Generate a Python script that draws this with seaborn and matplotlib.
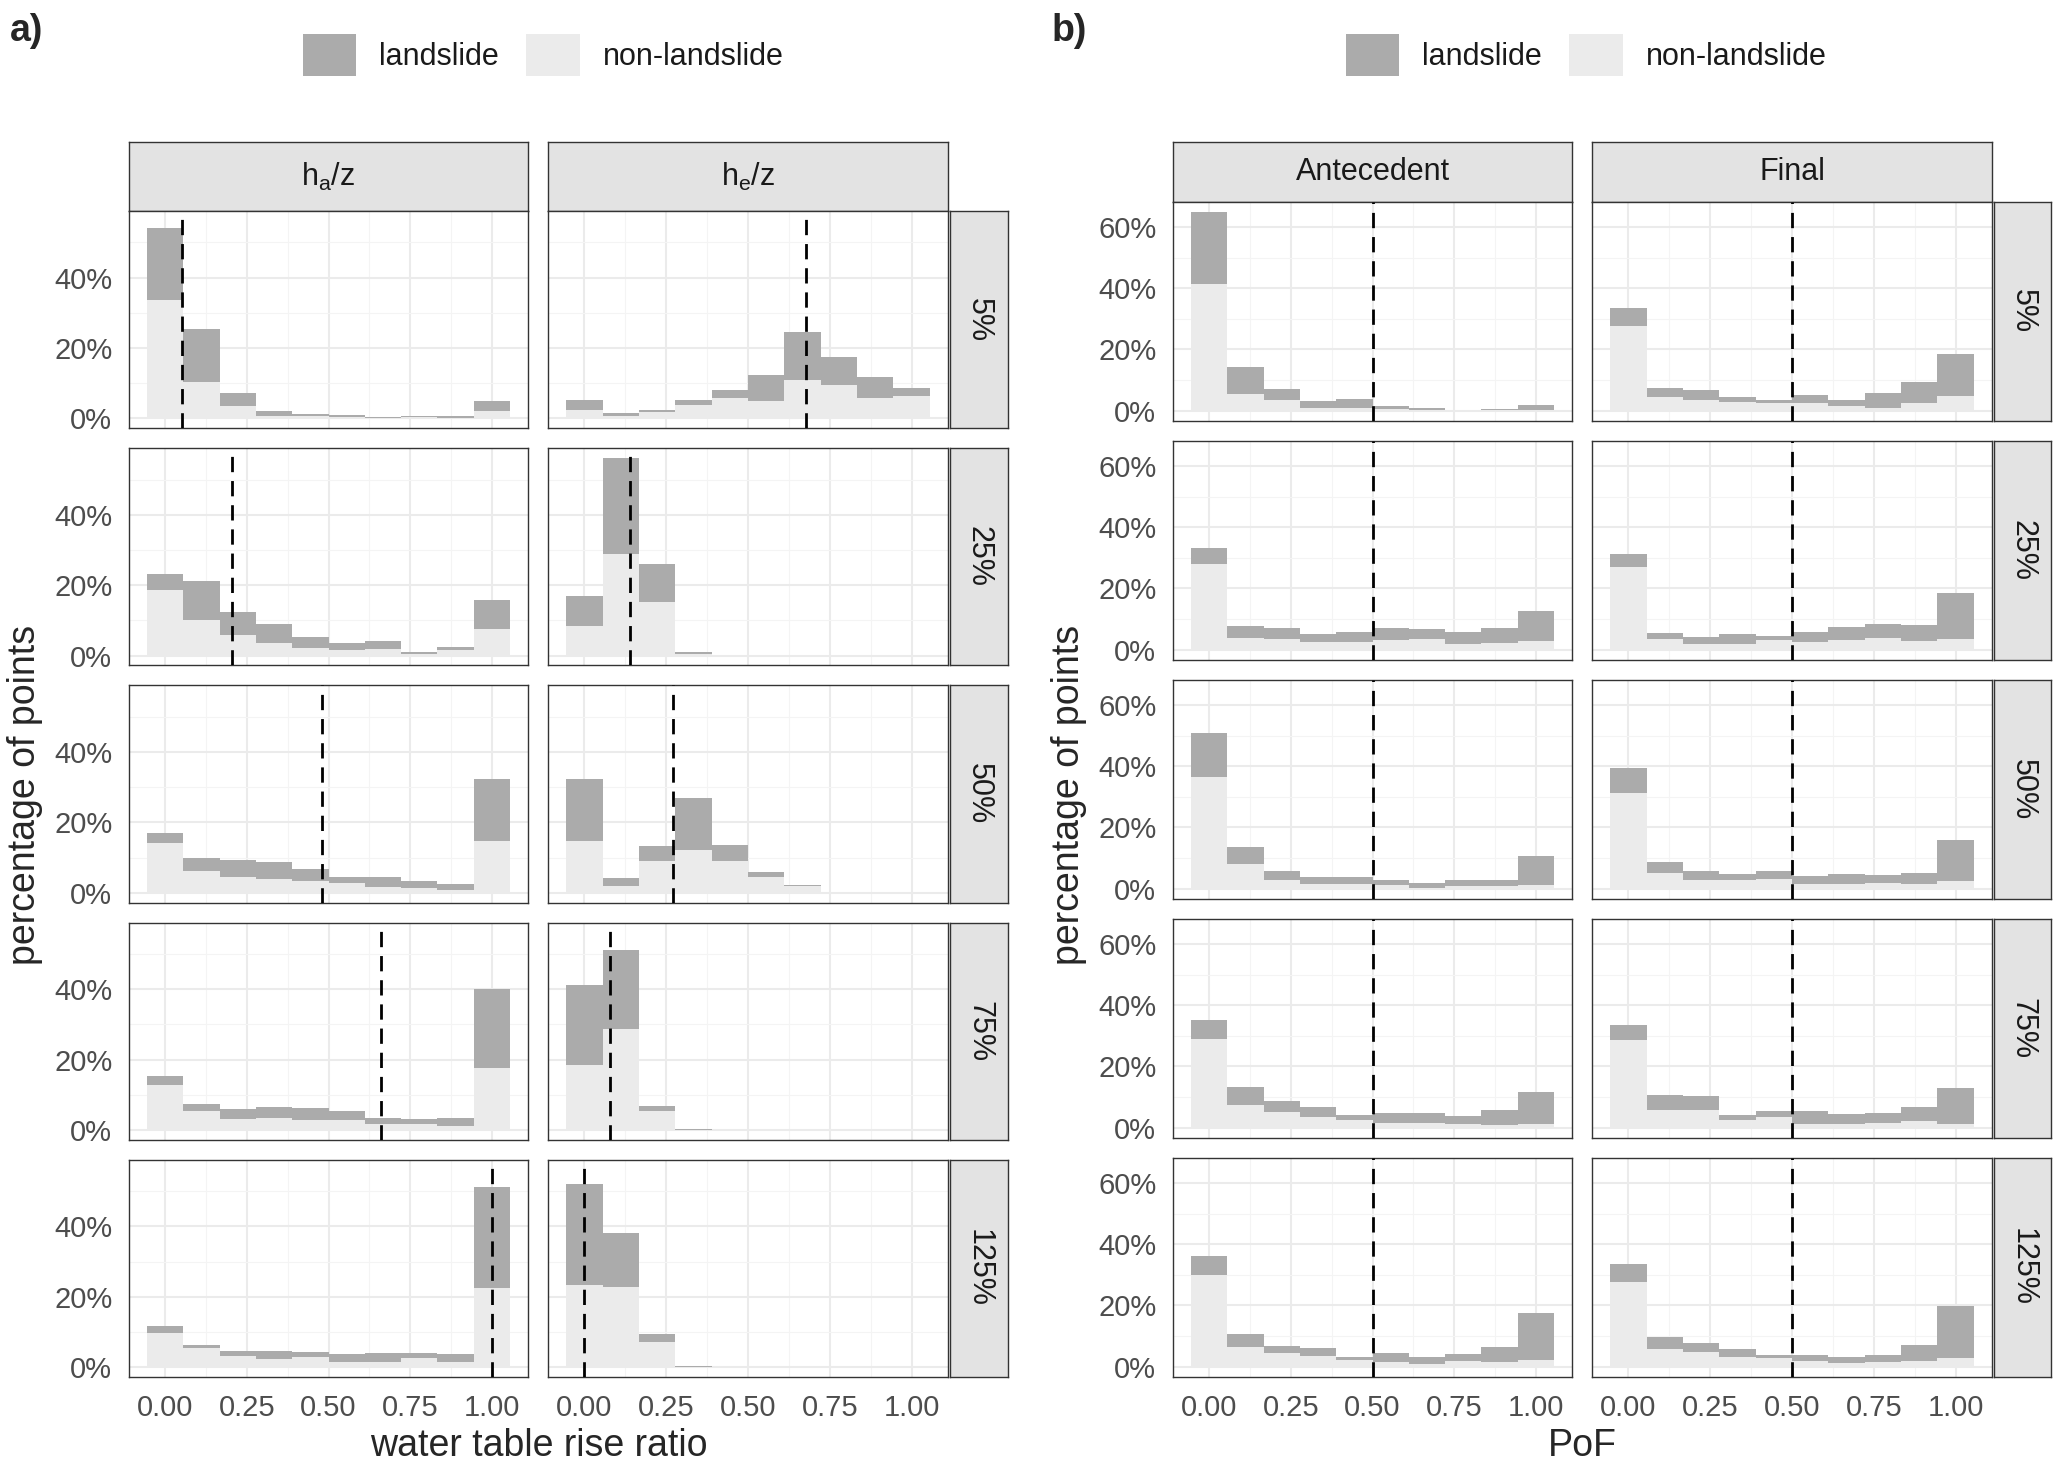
import numpy as np
import pandas as pd
import seaborn as sns
import matplotlib.pyplot as plt
from matplotlib.patches import Patch
from matplotlib.ticker import PercentFormatter

# ---- data (percentage of points per bin) ----
levels = ["5%", "25%", "50%", "75%", "125%"]
bin_centers = [0.0, 0.111, 0.222, 0.333, 0.444, 0.556, 0.667, 0.778, 0.889, 1.0]

# a) water table rise ratio, h_a/z
ha_nonls = {
    "5%":   [33.5, 10.2, 3.4, 0.8, 0.6, 0.5, 0.2, 0.3, 0.2, 2.2],
    "25%":  [18.6, 10.1, 5.7, 3.7, 2.2, 1.6, 1.9, 0.3, 1.5, 7.6],
    "50%":  [14.0, 6.3, 4.4, 3.9, 3.3, 2.7, 1.7, 1.4, 0.9, 14.6],
    "75%":  [12.8, 5.5, 3.1, 3.3, 2.8, 2.8, 1.6, 1.7, 1.2, 17.5],
    "125%": [9.7, 5.5, 3.3, 2.2, 2.8, 1.4, 1.4, 2.5, 1.4, 22.5],
}
ha_ls = {
    "5%":   [20.5, 15.3, 3.7, 1.2, 0.7, 0.5, 0.2, 0.3, 0.4, 2.6],
    "25%":  [4.7, 11.0, 6.6, 5.4, 3.0, 2.1, 2.2, 0.7, 0.9, 8.2],
    "50%":  [2.9, 3.7, 4.9, 4.7, 3.4, 1.9, 2.9, 1.9, 1.6, 17.8],
    "75%":  [2.4, 1.9, 2.9, 3.2, 3.3, 2.7, 1.7, 1.5, 2.3, 22.5],
    "125%": [2.1, 0.7, 1.3, 2.5, 1.6, 2.2, 2.7, 1.6, 2.2, 28.8],
}
ha_threshold = [0.05, 0.205, 0.48, 0.66, 1.0]

# a) h_e/z
he_nonls = {
    "5%":   [2.5, 0.6, 1.7, 3.8, 5.7, 4.8, 11.0, 9.5, 5.7, 6.3],
    "25%":  [8.5, 28.8, 15.2, 0.5, 0, 0, 0, 0, 0, 0],
    "50%":  [14.7, 2.0, 9.1, 12.2, 8.9, 4.4, 1.8, 0.1, 0, 0],
    "75%":  [18.4, 28.7, 5.4, 0.1, 0, 0, 0, 0, 0, 0],
    "125%": [23.2, 22.8, 7.1, 0.1, 0, 0, 0, 0, 0, 0],
}
he_ls = {
    "5%":   [2.6, 0.9, 0.8, 1.4, 2.3, 7.5, 13.6, 8.0, 6.1, 2.2],
    "25%":  [8.5, 27.3, 10.7, 0.5, 0, 0, 0, 0, 0, 0],
    "50%":  [17.7, 2.3, 4.2, 14.8, 4.7, 1.6, 0.5, 0.2, 0, 0],
    "75%":  [22.8, 22.3, 1.3, 0.1, 0, 0, 0, 0, 0, 0],
    "125%": [28.9, 15.3, 2.2, 0.1, 0, 0, 0, 0, 0, 0],
}
he_threshold = [0.677, 0.141, 0.27, 0.079, 0.0]

# b) PoF, antecedent
ante_nonls = {
    "5%":   [41.5, 5.5, 3.4, 1.0, 0.7, 0.4, 0.3, 0.1, 0.15, 0.2],
    "25%":  [28.1, 3.8, 3.4, 2.5, 2.5, 3.2, 3.5, 1.8, 2.1, 2.7],
    "50%":  [36.5, 8.0, 2.7, 1.5, 1.5, 1.2, 0.3, 1.0, 0.7, 1.3],
    "75%":  [29.1, 7.4, 5.0, 3.4, 2.4, 1.5, 1.5, 1.1, 0.9, 1.3],
    "125%": [29.9, 6.3, 4.3, 3.4, 2.3, 1.5, 1.0, 1.7, 1.4, 2.3],
}
ante_ls = {
    "5%":   [23.5, 8.7, 3.8, 2.1, 3.1, 1.1, 0.7, 0.2, 0.25, 1.6],
    "25%":  [5.0, 3.9, 3.5, 2.5, 3.3, 4.0, 3.3, 4.0, 5.0, 10.0],
    "50%":  [14.5, 5.7, 3.2, 2.2, 2.3, 1.6, 1.5, 1.7, 2.1, 9.3],
    "75%":  [6.0, 6.0, 3.7, 3.2, 1.8, 3.3, 3.3, 2.6, 5.0, 10.4],
    "125%": [6.3, 4.4, 2.3, 2.6, 1.0, 3.1, 2.3, 2.3, 4.9, 15.2],
}

# b) PoF, final
final_nonls = {
    "5%":   [27.6, 4.3, 3.4, 2.8, 2.5, 2.4, 1.6, 0.9, 2.4, 4.9],
    "25%":  [26.9, 3.5, 1.9, 1.9, 3.0, 2.4, 3.1, 3.7, 2.7, 3.4],
    "50%":  [31.3, 5.2, 2.7, 2.7, 3.1, 1.5, 1.5, 1.9, 1.5, 2.5],
    "75%":  [28.6, 5.9, 5.9, 2.6, 3.4, 1.3, 1.3, 1.5, 2.0, 1.3],
    "125%": [27.8, 5.8, 4.9, 3.0, 2.7, 1.8, 1.2, 1.6, 1.7, 2.7],
}
final_ls = {
    "5%":   [5.9, 3.2, 3.2, 1.8, 1.0, 2.8, 1.9, 4.7, 6.8, 13.6],
    "25%":  [4.4, 2.0, 2.2, 3.1, 1.4, 3.5, 4.3, 4.6, 5.3, 15.1],
    "50%":  [8.1, 3.4, 2.9, 2.0, 2.5, 2.5, 3.2, 2.5, 3.7, 13.5],
    "75%":  [5.0, 4.9, 4.3, 1.6, 1.9, 4.0, 3.3, 3.4, 4.6, 11.7],
    "125%": [5.9, 3.8, 2.7, 2.9, 1.1, 2.0, 1.8, 2.1, 5.3, 17.2],
}
pof_threshold = [0.5, 0.5, 0.5, 0.5, 0.5]

# ---- long table ----
records = []
for var, ls, nls in [("ha", ha_ls, ha_nonls), ("he", he_ls, he_nonls),
                     ("ante", ante_ls, ante_nonls), ("final", final_ls, final_nonls)]:
    for lvl in levels:
        for c, v in zip(bin_centers, ls[lvl]):
            records.append((var, lvl, c, "landslide", v))
        for c, v in zip(bin_centers, nls[lvl]):
            records.append((var, lvl, c, "non-landslide", v))
df = pd.DataFrame(records, columns=["var", "level", "value", "group", "pct"])

# ---- style ----
sns.set_style("white")
plt.rcParams["font.family"] = ["Liberation Sans", "DejaVu Sans"]
plt.rcParams["mathtext.fontset"] = "custom"
plt.rcParams["mathtext.rm"] = "Liberation Sans"

DARK = "#ABABAB"
LIGHT = "#EBEBEB"
palette = {"landslide": DARK, "non-landslide": LIGHT}
STRIP = "#E3E3E3"
BORDER = "#333333"
TICKTXT = "#4D4D4D"

W, H = 2056, 1464
fig = plt.figure(figsize=(W / 100, H / 100), dpi=100)


def rect(x0, y0, x1, y1):
    return [x0 / W, 1 - y1 / H, (x1 - x0) / W, (y1 - y0) / H]


def style_box(ax):
    for s in ax.spines.values():
        s.set_color(BORDER)
        s.set_linewidth(1.0)
        s.set_visible(True)


def strip(x0, y0, x1, y1, label, rot=0):
    sax = fig.add_axes(rect(x0, y0, x1, y1))
    sax.set_facecolor(STRIP)
    sax.set_xticks([])
    sax.set_yticks([])
    style_box(sax)
    sax.text(0.5, 0.5, label, transform=sax.transAxes, ha="center", va="center",
             rotation=rot, fontsize=22, color="#1A1A1A")


blocks = [
    # name, col x-ranges, right strip, strip top, row top, vars, col labels, thresholds, ylim, yticks, xlabel
    dict(cols=[(129, 528), (548, 948)], rstrip=(950, 1008), stop=142, rtop=211,
         vars=["ha", "he"], labels=[r"h$_\mathregular{a}$/z", r"h$_\mathregular{e}$/z"],
         thr=[ha_threshold, he_threshold], ylim=(-2.8, 58.9), yticks=[0, 20, 40],
         xlabel="water table rise ratio", tag="a)", tagx=10,
         leg_x=543),
    dict(cols=[(1173, 1572), (1592, 1992)], rstrip=(1994, 2051), stop=142, rtop=202,
         vars=["ante", "final"], labels=["Antecedent", "Final"],
         thr=[pof_threshold, pof_threshold], ylim=(-3.4, 68.2), yticks=[0, 20, 40, 60],
         xlabel="PoF", tag="b)", tagx=1052,
         leg_x=1586),
]

bottom = 1377
gap = 20
for b in blocks:
    rh = (bottom - b["rtop"] - 4 * gap) / 5
    for ci, ((x0, x1), var, lab, thr) in enumerate(zip(b["cols"], b["vars"], b["labels"], b["thr"])):
        strip(x0, b["stop"], x1, b["rtop"], lab)
        for ri, lvl in enumerate(levels):
            y0 = b["rtop"] + ri * (rh + gap)
            y1 = y0 + rh
            ax = fig.add_axes(rect(x0, y0, x1, y1))
            sub = df[(df["var"] == var) & (df["level"] == lvl)]
            sns.histplot(data=sub, x="value", weights="pct", hue="group",
                         hue_order=["landslide", "non-landslide"], palette=palette,
                         multiple="stack", bins=10, binrange=(-0.0556, 1.0556),
                         alpha=1, linewidth=0, legend=False, ax=ax)
            ax.axvline(thr[ri], color="black", linestyle=(0, (5.5, 3.2)), linewidth=2.0, zorder=5)
            ax.set_xlim(-0.111, 1.111)
            ax.set_ylim(*b["ylim"])
            ax.set_xticks([0, 0.25, 0.5, 0.75, 1.0])
            ax.set_xticks([0.125, 0.375, 0.625, 0.875], minor=True)
            ax.set_yticks(b["yticks"])
            ax.set_yticks([10, 30, 50], minor=True)
            ax.set_axisbelow(True)
            ax.grid(which="major", color="#EBEBEB", linewidth=1.5)
            ax.grid(which="minor", color="#F4F4F4", linewidth=0.8)
            ax.set_xlabel("")
            ax.set_ylabel("")
            ax.yaxis.set_major_formatter(PercentFormatter(xmax=100, decimals=0))
            ax.xaxis.set_major_formatter(lambda v, p: f"{v:.2f}")
            ax.tick_params(which="minor", length=0)
            ax.tick_params(which="major", length=7, width=1.6, color=BORDER,
                           labelsize=21, labelcolor=TICKTXT, pad=5)
            style_box(ax)
            if ci != 0:
                ax.tick_params(axis="y", which="major", length=0, labelleft=False)
            if ri != len(levels) - 1:
                ax.tick_params(axis="x", which="major", length=0, labelbottom=False)
            if ci == len(b["cols"]) - 1:
                strip(b["rstrip"][0], y0, b["rstrip"][1], y1, lvl, rot=-90)

    cx = (b["cols"][0][0] + b["cols"][-1][1]) / 2
    fig.text(cx / W, 1 - 1446 / H, b["xlabel"], ha="center", va="center", fontsize=27)
    ylx = b["cols"][0][0] - 104
    fig.text(ylx / W, 1 - 795 / H, "percentage of points", rotation=90,
             ha="center", va="center", fontsize=27)
    fig.text(b["tagx"] / W, 1 - 31 / H, b["tag"], ha="left", va="center",
             fontsize=27, fontweight="bold")
    handles = [Patch(facecolor=DARK, edgecolor="none", label="landslide"),
               Patch(facecolor=LIGHT, edgecolor="none", label="non-landslide")]
    fig.legend(handles=handles, loc="center", bbox_to_anchor=(b["leg_x"] / W, 1 - 55 / H),
               ncol=2, frameon=False, fontsize=22, handlelength=1.75, handleheight=1.75,
               handletextpad=0.75, columnspacing=0.9, labelcolor="#1A1A1A")

fig.savefig("out.png", dpi=100)
